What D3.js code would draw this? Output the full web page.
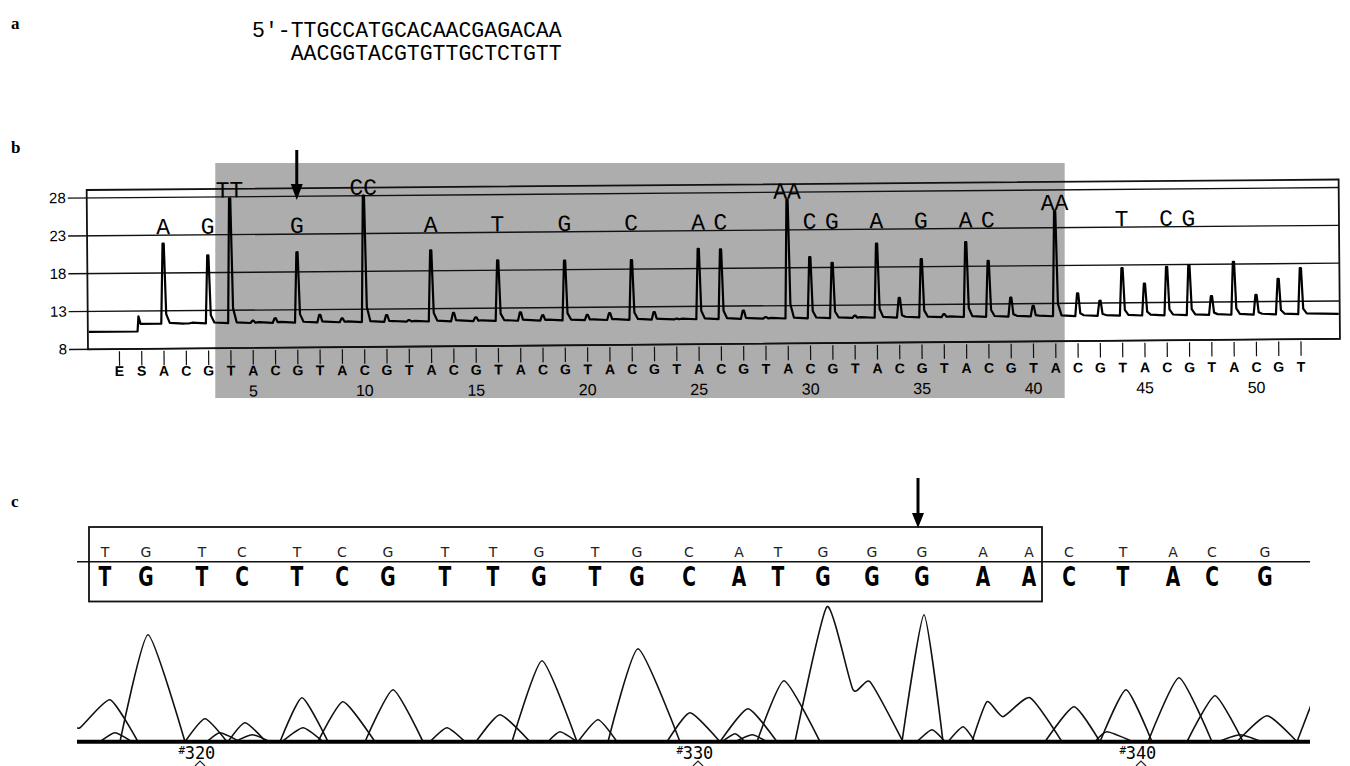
<!DOCTYPE html>
<html>
<head>
<meta charset="utf-8">
<script src="https://cdn.jsdelivr.net/npm/d3@7"></script>
<style>
  body { margin: 0; background: #fff; }
  svg { display: block; background: #fff; }
</style>
</head>
<body>
<div id="chart"></div>
<script>
// ---- panel a: the sequence
const seqTop = "5'-TTGCCATGCACAACGAGACAA";
const seqBottom = "AACGGTACGTGTTGCTCTGTT";

// ---- panel b: pyrogram
const dispensation = ["E","S","A","C","G","T","A","C","G","T","A","C","G","T","A","C","G","T",
  "A","C","G","T","A","C","G","T","A","C","G","T","A","C","G","T","A","C","G","T",
  "A","C","G","T","A","C","G","T","A","C","G","T","A","C","G","T"];
// peak heights of flows 1..52
const flowHeights = [21.9, 11.3, 20.3, 27.8, 11.6, 11.9, 20.6, 12.3, 11.8, 28.0,
  12.2, 11.5, 20.7, 12.4, 11.8, 19.3, 12.4, 12.0, 19.2, 12.0,
  12.2, 19.2, 12.3, 11.4, 20.6, 20.5, 12.4, 11.5, 27.0, 19.4,
  18.6, 11.6, 21.1, 13.9, 19.0, 11.7, 21.2, 18.7, 13.8, 12.7,
  25.2, 14.3, 13.3, 17.6, 15.5, 17.7, 17.9, 13.8, 18.3, 13.9,
  16.0, 17.4];
const startLevel = 10.3, baseLevel = 11.3, sSpike = 12.3;
const flowTicks = [5, 10, 15, 20, 25, 30, 35, 40, 45, 50];
const yTicks = [8, 13, 18, 23, 28];
const callFlows = [1, 3, 4, 7, 10, 13, 16, 19, 22, 25, 26, 29, 30, 31, 33, 35, 37, 38, 41, 44, 46, 47];
const callText = ["A","G","TT","G","CC","A","T","G","C","A","C","AA","C","G","A","G","A","C","AA","T","C","G"];
const shadedFlows = [3.3, 41.4];

// ---- panel c: sequencing trace
const bases = ["T","G","T","C","T","C","G","T","T","G","T","G","C","A","T","G","G","G","A","A","C","T","A","C","G"];
const basePos = [28, 69, 125, 165, 220, 265, 311, 368, 416, 462, 518, 560, 612, 662, 701, 746, 795, 845, 906, 952, 992, 1046, 1096, 1135, 1188];
const boxedBases = [0, 19];
const arrowBase = 17;
const traceT = [
  [[-7,18],[3,14],[33,42],[61,0]],
  [[108,0],[128,23],[150,0]],
  [[203,0],[225,44],[251,0]],
  [[353,0],[370,14],[388,0]],
  [[399,0],[423,27],[453,0]],
  [[501,0],[521,22],[540,0]],
  [[680,0],[707,61],[743,0]],
  [[1023,0],[1049,52],[1075,0]],
  [[1220,0],[1243,60]]
];
const traceG = [
  [[43,0],[71,107],[108,0]],
  [[288,0],[316,52],[346,0]],
  [[435,0],[465,81],[500,0]],
  [[531,0],[561,93],[603,0]],
  [[718,0],[750,135],[776,52],[793,60],[826,0]],
  [[825,0],[847,127],[866,0]],
  [[1160,0],[1190,26],[1220,0]]
];
const traceC = [
  [[151,0],[168,19],[189,0]],
  [[241,0],[266,40],[298,0]],
  [[590,0],[613,29],[643,0]],
  [[968,0],[997,35],[1023,0]],
  [[1110,0],[1138,46],[1166,0]]
];
const traceA = [
  [[643,0],[671,33],[700,0]],
  [[895,0],[910,40],[926,25],[953,44],[985,0]],
  [[1071,0],[1102,64],[1135,0]]
];
const traceMinor = [
  [[23,0],[38,9],[55,0]],
  [[130,0],[143,9],[163,0]],
  [[158,0],[175,7],[193,0]],
  [[205,0],[226,14],[246,0]],
  [[471,0],[483,10],[500,0]],
  [[645,0],[658,8],[668,0]],
  [[658,0],[675,7],[690,0]],
  [[840,0],[855,12],[868,0]],
  [[871,0],[886,15],[898,0]],
  [[1018,0],[1030,10],[1056,0]],
  [[1141,0],[1163,7],[1185,0]]
];
const scanTicks = [123, 621, 1064];
const scanLabels = ["320", "330", "340"];

const W = 1350, H = 766;
const svg = d3.select("#chart").append("svg").attr("width", W).attr("height", H);

// panel letters
svg.selectAll("text.panel")
  .data([["a", 29], ["b", 153], ["c", 507]])
  .enter().append("text")
  .attr("class", "panel")
  .attr("x", 11).attr("y", d => d[1])
  .style("font-family", "'Liberation Serif', serif")
  .style("font-weight", "bold").style("font-size", "17px")
  .text(d => d[0]);

// ---- a
const charW = 12.9;
const seqG = svg.append("g")
  .style("font-family", "'Courier New', 'Liberation Mono', monospace")
  .style("font-size", "21.5px");
seqG.append("text").attr("x", 252).attr("y", 37).text(seqTop);
seqG.append("text").attr("x", 252 + 3 * charW).attr("y", 60).text(seqBottom);

// ---- b
const x = d3.scaleLinear().domain([1, 52]).range([164, 1301]);
const y = d3.scaleLinear().domain([8, 28]).range([349.3, 198]);
const flowX = i => x(i - 1); // dispensation index -> x (E = -1, S = 0)

svg.append("rect")
  .attr("x", x(shadedFlows[0])).attr("y", 163)
  .attr("width", x(shadedFlows[1]) - x(shadedFlows[0])).attr("height", 235)
  .attr("fill", "#adadad");

const pyro = svg.append("g").attr("transform", "rotate(-0.48 88 349.3)");
// tick labels are only slightly tilted in the scan
const pyroLab = svg.append("g").attr("transform", "rotate(-0.2 88 349.3)");

const left = 88, right = 1340;
pyro.append("rect")
  .attr("x", left).attr("y", y(29.06))
  .attr("width", right - left).attr("height", y(8) - y(29.06))
  .attr("fill", "none").attr("stroke", "#111").attr("stroke-width", 1.8);

pyro.selectAll("line.grid").data(yTicks).enter().append("line")
  .attr("class", "grid")
  .attr("x1", 69).attr("x2", right)
  .attr("y1", d => y(d)).attr("y2", d => y(d))
  .attr("stroke", "#111").attr("stroke-width", 1.4);

pyro.selectAll("text.ylab").data(yTicks).enter().append("text")
  .attr("class", "ylab")
  .attr("x", 67).attr("y", d => y(d) + 5)
  .attr("text-anchor", "end")
  .style("font-family", "'Liberation Sans', Arial, sans-serif")
  .style("font-size", "15px")
  .text(d => d);

pyro.selectAll("line.xtick").data(dispensation).enter().append("line")
  .attr("class", "xtick")
  .attr("x1", (d, i) => flowX(i)).attr("x2", (d, i) => flowX(i))
  .attr("y1", 351.5).attr("y2", 366)
  .attr("stroke", "#111").attr("stroke-width", 1.2);

pyroLab.selectAll("text.xlab").data(dispensation).enter().append("text")
  .attr("class", "xlab")
  .attr("x", (d, i) => flowX(i)).attr("y", 376)
  .attr("text-anchor", "middle")
  .style("font-family", "'Liberation Sans', Arial, sans-serif")
  .style("font-weight", "bold").style("font-size", "14px")
  .text(d => d);

pyroLab.selectAll("text.xnum").data(flowTicks).enter().append("text")
  .attr("class", "xnum")
  .attr("x", d => x(d)).attr("y", 397)
  .attr("text-anchor", "middle")
  .style("font-family", "'Liberation Sans', Arial, sans-serif")
  .style("font-size", "16px")
  .text(d => d);

// trace points: flat start, S step, then one spike per flow
let pts = [[left + 1, startLevel], [flowX(1) - 4, startLevel], [flowX(1) - 3, sSpike], [flowX(1) - 1, baseLevel]];
flowHeights.forEach((v, k) => {
  const xi = x(k + 1);
  pts.push([xi - 2.5, baseLevel], [xi - 0.6, v], [xi + 0.6, v],
           [xi + 2.5, baseLevel + (v - baseLevel) * 0.12], [xi + 6, baseLevel + 0.1]);
});
pts.push([right - 1, baseLevel]);
const pyroLine = d3.line().x(d => d[0]).y(d => y(d[1]));
pyro.append("path")
  .attr("d", pyroLine(pts))
  .attr("fill", "none").attr("stroke", "#000")
  .attr("stroke-width", 2.2).attr("stroke-linejoin", "round");

pyro.selectAll("text.call").data(callFlows).enter().append("text")
  .attr("class", "call")
  .attr("x", d => x(d))
  .attr("y", d => y(Math.max(flowHeights[d - 1], 23)) - 1)
  .attr("text-anchor", "middle")
  .style("font-family", "'Courier New', 'Liberation Mono', monospace")
  .style("font-size", "23px")
  .text((d, i) => callText[i]);

// arrow b
const ax = x(7) - 1;
svg.append("line").attr("x1", ax).attr("x2", ax).attr("y1", 150).attr("y2", 186)
  .attr("stroke", "#000").attr("stroke-width", 3);
svg.append("path").attr("d", `M${ax - 6},184 L${ax + 6},184 L${ax},200 Z`).attr("fill", "#000");

// ---- c
const xc = d3.scaleLinear().domain([0, 1233]).range([77, 1310]);
const yc = d3.scaleLinear().domain([0, 140]).range([741.7, 601.7]);

const boxL = xc(basePos[boxedBases[0]]) - 16, boxR = xc(basePos[boxedBases[1]]) + 13;
svg.append("rect")
  .attr("x", boxL).attr("y", 527).attr("width", boxR - boxL).attr("height", 74.5)
  .attr("fill", "none").attr("stroke", "#111").attr("stroke-width", 1.8);
svg.append("line").attr("x1", 77).attr("x2", 1310).attr("y1", 561.7).attr("y2", 561.7)
  .attr("stroke", "#111").attr("stroke-width", 1.5);

svg.selectAll("text.small").data(bases).enter().append("text")
  .attr("class", "small")
  .attr("x", (d, i) => xc(basePos[i])).attr("y", 557)
  .attr("text-anchor", "middle")
  .style("font-family", "'DejaVu Sans', sans-serif")
  .style("font-size", "14px").attr("fill", "#222")
  .text(d => d);

svg.selectAll("text.big").data(bases).enter().append("text")
  .attr("class", "big")
  .attr("transform", (d, i) => `translate(${xc(basePos[i])},585.5) scale(0.72,1)`)
  .attr("text-anchor", "middle")
  .style("font-family", "'DejaVu Sans', sans-serif")
  .style("font-weight", "bold").style("font-size", "26px")
  .text(d => d);

// arrow c
const cx = xc(basePos[arrowBase]) - 4;
svg.append("line").attr("x1", cx).attr("x2", cx).attr("y1", 478).attr("y2", 515)
  .attr("stroke", "#000").attr("stroke-width", 3);
svg.append("path").attr("d", `M${cx - 6},513 L${cx + 6},513 L${cx},528 Z`).attr("fill", "#000");

svg.append("clipPath").attr("id", "trclip").append("rect")
  .attr("x", 77).attr("y", 590).attr("width", 1233).attr("height", 152);

const humpLine = d3.line().x(d => xc(d[0])).y(d => yc(d[1])).curve(d3.curveCardinal.tension(0.45));
const traces = svg.append("g").attr("clip-path", "url(#trclip)");
[traceT, traceG, traceC, traceA, traceMinor].forEach(tr => {
  traces.selectAll(null).data(tr).enter().append("path")
    .attr("d", humpLine)
    .attr("fill", "none").attr("stroke", "#111").attr("stroke-width", 1.6);
});

svg.append("line").attr("x1", 77).attr("x2", 1310).attr("y1", 741.7).attr("y2", 741.7)
  .attr("stroke", "#000").attr("stroke-width", 4);

const tickG = svg.selectAll("g.scan").data(scanTicks).enter().append("g")
  .attr("class", "scan")
  .attr("transform", d => `translate(${xc(d)},0)`);
tickG.append("text").attr("x", 0).attr("y", 759)
  .attr("text-anchor", "middle")
  .style("font-family", "'DejaVu Sans Mono', monospace").style("font-size", "17px")
  .text((d, i) => scanLabels[i]);
tickG.append("text").attr("x", -15).attr("y", 754)
  .attr("text-anchor", "end")
  .style("font-family", "'DejaVu Sans Mono', monospace").style("font-size", "11px")
  .text("#");
tickG.append("path").attr("d", "M-5,766 L0,761 L5,766")
  .attr("fill", "none").attr("stroke", "#222").attr("stroke-width", 1.2);
</script>
</body>
</html>
